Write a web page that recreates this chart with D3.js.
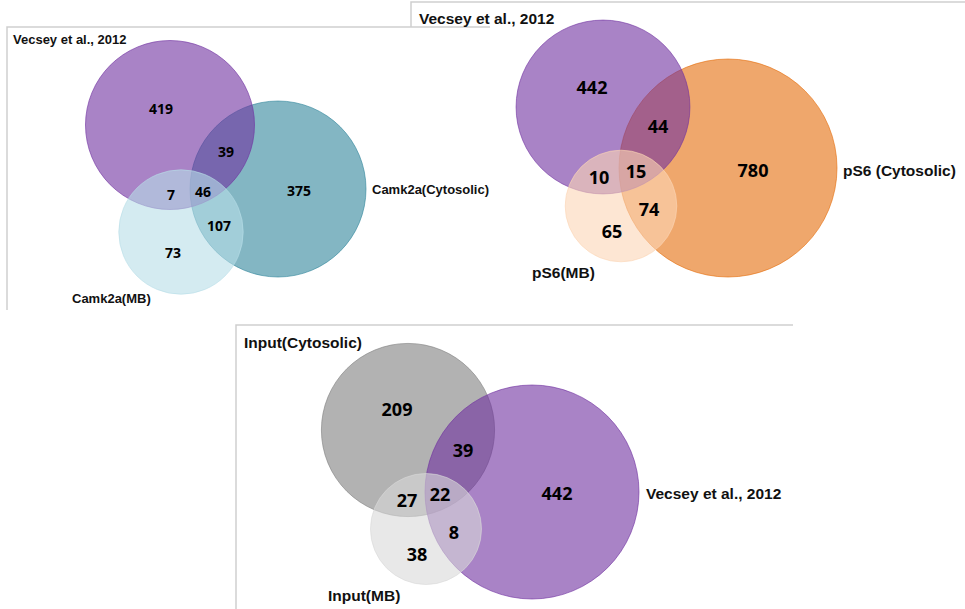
<!DOCTYPE html>
<html>
<head>
<meta charset="utf-8">
<script src="https://cdn.jsdelivr.net/npm/d3@7"></script>
<style>
  body { margin: 0; background: #fff; }
  svg { display: block; }
</style>
</head>
<body>
<svg id="graph" width="965" height="609"></svg>
<script>
// region order: A only, B only, C only, A&B, A&C, B&C, A&B&C
var regionKeys = ["A", "B", "C", "AB", "AC", "BC", "ABC"];

var camk2aSets = ["Vecsey et al., 2012", "Camk2a(Cytosolic)", "Camk2a(MB)"];
var camk2aCounts = [419, 375, 73, 39, 7, 107, 46];

var ps6Sets = ["Vecsey et al., 2012", "pS6 (Cytosolic)", "pS6(MB)"];
var ps6Counts = [442, 780, 65, 44, 10, 74, 15];

var inputSets = ["Input(Cytosolic)", "Vecsey et al., 2012", "Input(MB)"];
var inputCounts = [209, 442, 38, 39, 27, 8, 22];

(function() {
    var svg = d3.select("#graph");

    // layout for each panel (positions and styles only)
    var panels = [
        {
            sets: camk2aSets, counts: camk2aCounts, rmax: 88,
            colors: ["rgb(112,48,160)", "rgb(49,133,155)", "rgb(183,222,232)"],
            order: [1, 0, 2],
            centers: [[170, 125], [278, 189], [181, 232]],
            spots: [[161, 108], [299, 190], [173, 252], [226, 151], [171, 194], [219, 225], [203, 191]],
            setLabels: [[13, 39], [372, 189], [72, 298]],
            numSize: 14, labSize: 13,
            frame: [[[7, 310], [7, 27], [490, 27]]]
        },
        {
            sets: ps6Sets, counts: ps6Counts, rmax: 109,
            colors: ["rgb(112,48,160)", "rgb(228,108,10)", "rgb(252,213,181)"],
            order: [1, 0, 2],
            centers: [[603, 107], [728, 168], [621, 206]],
            spots: [[592, 87], [753, 170], [612, 231], [658, 126], [599, 177], [649, 209], [636, 171]],
            setLabels: [[419, 18], [843, 170], [532, 272]],
            numSize: 18, labSize: 15.5,
            frame: [[[411, 27], [411, 2], [965, 2]]]
        },
        {
            sets: inputSets, counts: inputCounts, rmax: 107,
            colors: ["rgb(127,127,127)", "rgb(112,48,160)", "rgb(217,217,217)"],
            order: [0, 1, 2],
            centers: [[408, 430], [532, 492], [426, 529]],
            spots: [[397, 409], [557, 493], [417, 554], [463, 450], [407, 500], [454, 532], [440, 494]],
            setLabels: [[244, 342], [646, 493], [328, 595]],
            numSize: 18, labSize: 15.5,
            frame: [[[236, 609], [236, 325], [793, 325]]]
        }
    ];

    var line = d3.line();

    panels.forEach(function(p) {
        var byKey = {};
        regionKeys.forEach(function(k, i) { byKey[k] = p.counts[i]; });

        // set totals = sum of every region containing that set
        var totals = ["A", "B", "C"].map(function(s, i) {
            return {
                i: i,
                total: d3.sum(regionKeys.filter(k => k.indexOf(s) >= 0), k => byKey[k])
            };
        });

        var r = d3.scalePow().exponent(0.39)
            .domain([0, d3.max(totals, d => d.total)])
            .range([0, p.rmax]);

        var g = svg.append("g");

        g.selectAll("path.frame")
            .data(p.frame)
            .join("path")
            .attr("class", "frame")
            .attr("d", line)
            .attr("fill", "none")
            .attr("stroke", "#cfcfcf")
            .attr("stroke-width", 1.5);

        g.selectAll("circle")
            .data(p.order.map(i => totals[i]))
            .join("circle")
            .attr("cx", d => p.centers[d.i][0])
            .attr("cy", d => p.centers[d.i][1])
            .attr("r", d => r(d.total))
            .attr("fill", d => p.colors[d.i])
            .attr("fill-opacity", 0.6)
            .attr("stroke", d => p.colors[d.i])
            .attr("stroke-opacity", 0.6)
            .attr("stroke-width", 1);

        g.selectAll("text.count")
            .data(p.counts)
            .join("text")
            .attr("class", "count")
            .attr("x", (d, i) => p.spots[i][0])
            .attr("y", (d, i) => p.spots[i][1])
            .attr("text-anchor", "middle")
            .attr("dominant-baseline", "central")
            .attr("font-family", "'Open Sans', sans-serif")
            .attr("font-weight", "bold")
            .attr("font-size", p.numSize)
            .attr("fill", "#000")
            .text(d => d);

        g.selectAll("text.set")
            .data(p.sets)
            .join("text")
            .attr("class", "set")
            .attr("x", (d, i) => p.setLabels[i][0])
            .attr("y", (d, i) => p.setLabels[i][1])
            .attr("dominant-baseline", "central")
            .attr("font-family", "'Liberation Sans', Arial, sans-serif")
            .attr("font-weight", "bold")
            .attr("font-size", p.labSize)
            .attr("fill", "#111")
            .text(d => d);
    });
})();
</script>
</body>
</html>
